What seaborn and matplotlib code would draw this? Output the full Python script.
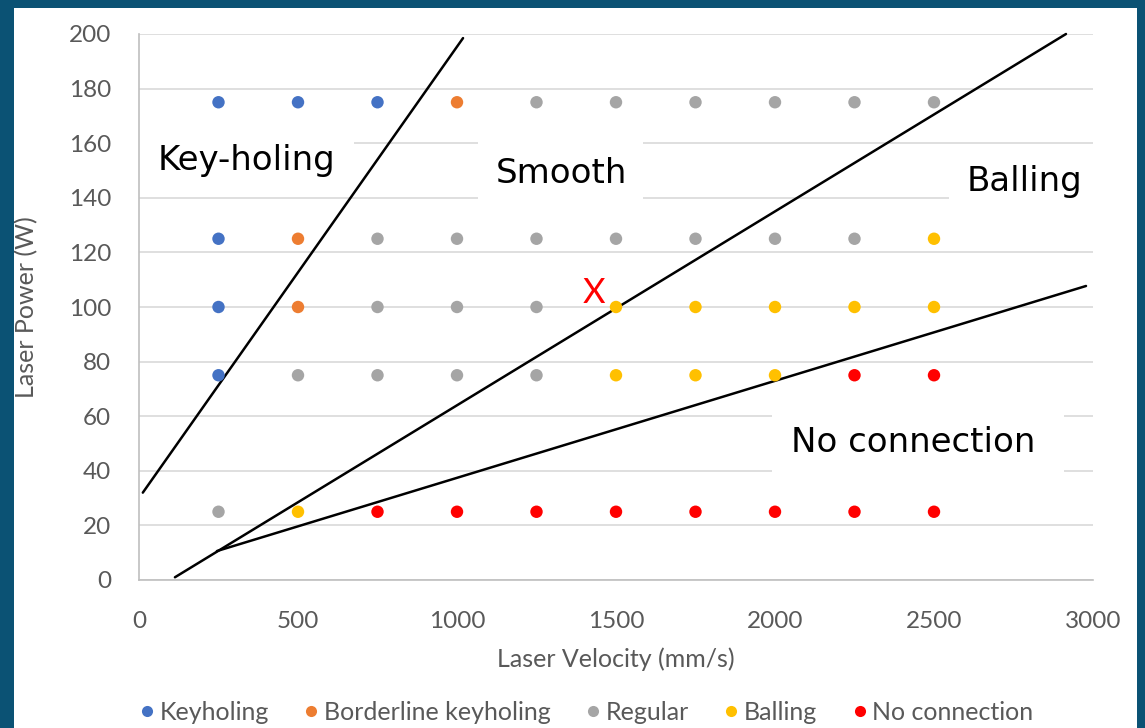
import matplotlib
matplotlib.use("Agg")
import matplotlib.pyplot as plt
from matplotlib.patches import Rectangle
from matplotlib.lines import Line2D
import numpy as np
import pandas as pd
import seaborn as sns

# Process-map grid: scan velocities (mm/s) and laser powers (W)
velocities = [250, 500, 750, 1000, 1250, 1500, 1750, 2000, 2250, 2500]
power_levels = [175, 125, 100, 75, 25]

# Observed regime for every (power, velocity) combination, one list per power level
regimes_175 = ["Keyholing", "Keyholing", "Keyholing", "Borderline keyholing", "Regular",
               "Regular", "Regular", "Regular", "Regular", "Regular"]
regimes_125 = ["Keyholing", "Borderline keyholing", "Regular", "Regular", "Regular",
               "Regular", "Regular", "Regular", "Regular", "Balling"]
regimes_100 = ["Keyholing", "Borderline keyholing", "Regular", "Regular", "Regular",
               "Balling", "Balling", "Balling", "Balling", "Balling"]
regimes_75 = ["Keyholing", "Regular", "Regular", "Regular", "Regular",
              "Balling", "Balling", "Balling", "No connection", "No connection"]
regimes_25 = ["Regular", "Balling", "No connection", "No connection", "No connection",
              "No connection", "No connection", "No connection", "No connection", "No connection"]

categories = ["Keyholing", "Borderline keyholing", "Regular", "Balling", "No connection"]
colors = ["#4472C4", "#ED7D31", "#A5A5A5", "#FFC000", "#FF0000"]

# Hand-drawn regime boundaries (velocity, power) end points
keyhole_bound_v = [12, 1019]
keyhole_bound_p = [32, 198.5]
balling_bound_v = [113, 2915]
balling_bound_p = [1, 200]
noconn_bound_v = [245, 2978]
noconn_bound_p = [10.6, 107.7]

# Outlier marker
outlier_v, outlier_p = 1431, 105

x_ticks = [0, 500, 1000, 1500, 2000, 2500, 3000]
y_ticks = [0, 20, 40, 60, 80, 100, 120, 140, 160, 180, 200]

rows = [regimes_175, regimes_125, regimes_100, regimes_75, regimes_25]
records = []
for p, row in zip(power_levels, rows):
    for v, r in zip(velocities, row):
        records.append({"Laser Velocity (mm/s)": v, "Laser Power (W)": p, "Regime": r})
df = pd.DataFrame(records)

sns.set_theme(style="white")
plt.rcParams["font.family"] = ["Lato", "DejaVu Sans"]

fig = plt.figure(figsize=(11.45, 7.28), dpi=100)
fig.patch.set_facecolor("white")
W, H = 1145, 728
ax = fig.add_axes([139 / W, 1 - 580 / H, (1093 - 139) / W, (580 - 34) / H])

grid_c = "#D9D9D9"
text_c = "#595959"
ax.set_xlim(0, 3000)
ax.set_ylim(0, 200)
ax.set_xticks(x_ticks)
ax.set_yticks(y_ticks)
ax.grid(axis="y", color=grid_c, linewidth=1.2)
ax.grid(axis="x", visible=False)
ax.set_axisbelow(True)
for side in ["top", "right"]:
    ax.spines[side].set_visible(False)
for side in ["left", "bottom"]:
    ax.spines[side].set_color("#BFBFBF")
    ax.spines[side].set_linewidth(1.2)
    ax.spines[side].set_zorder(2.5)
ax.tick_params(axis="both", length=0, labelsize=17.5, labelcolor=text_c)
ax.tick_params(axis="y", pad=20)
ax.tick_params(axis="x", pad=22)

# White label boxes that mask the gridlines behind region names
boxes = [
    (0.0, 0.7234, 0.2254, 0.1007),
    (0.3553, 0.678, 0.173, 0.137),
    (0.849, 0.674, 0.151, 0.104),
    (0.6635, 0.1795, 0.306, 0.1465),
]
for x0, y0, w, h in boxes:
    ax.add_patch(Rectangle((x0, y0), w, h, transform=ax.transAxes,
                           facecolor="white", edgecolor="none", zorder=1))

# Regime boundaries
for bv, bp in [(keyhole_bound_v, keyhole_bound_p),
               (balling_bound_v, balling_bound_p),
               (noconn_bound_v, noconn_bound_p)]:
    ax.plot(bv, bp, color="black", linewidth=1.8, zorder=2, clip_on=False)

sns.scatterplot(data=df, x="Laser Velocity (mm/s)", y="Laser Power (W)", hue="Regime",
                hue_order=categories, palette=colors, s=80, linewidth=0,
                legend=False, ax=ax, zorder=3)

ax.text(outlier_v, outlier_p, "X", color="#FF0000", fontsize=25, ha="center",
        va="center", zorder=4)

region_font = dict(family="DejaVu Sans", fontsize=24.5, color="black",
                   ha="center", va="center", zorder=4, transform=ax.transAxes)
ax.text(0.1132, 0.7692, "Key-holing", **region_font)
ax.text(0.4423, 0.7454, "Smooth", **region_font)
ax.text(0.9287, 0.729, "Balling", **region_font)
ax.text(0.8113, 0.2527, "No connection", **region_font)

ax.set_xlabel("Laser Velocity (mm/s)", fontsize=18, color=text_c, va="center")
ax.set_ylabel("Laser Power (W)", fontsize=18, color=text_c, va="center", ha="center")
ax.xaxis.set_label_coords(0.5, (580 - 659) / 546)
ax.yaxis.set_label_coords((27 - 139) / 954, 0.5)

handles = [Line2D([], [], marker="o", linestyle="none", markersize=8,
                  markerfacecolor=c, markeredgecolor="none", label=cat)
           for cat, c in zip(categories, colors)]
fig.legend(handles=handles, loc="center", bbox_to_anchor=(585 / W, 1 - 712 / H),
           ncol=5, frameon=False, fontsize=18, handletextpad=0.1,
           columnspacing=1.3, handlelength=0.8, labelcolor=text_c)

# Dark frame along the left, top and right edges
frame_c = "#0B5274"
fig.patches.append(Rectangle((0, 0), 14 / W, 1, transform=fig.transFigure,
                             facecolor=frame_c, edgecolor="none", zorder=10))
fig.patches.append(Rectangle((0, 1 - 8 / H), 1, 8 / H, transform=fig.transFigure,
                             facecolor=frame_c, edgecolor="none", zorder=10))
fig.patches.append(Rectangle((1 - 8 / W, 0), 8 / W, 1, transform=fig.transFigure,
                             facecolor=frame_c, edgecolor="none", zorder=10))

fig.savefig("out.png", dpi=100, facecolor="white")
